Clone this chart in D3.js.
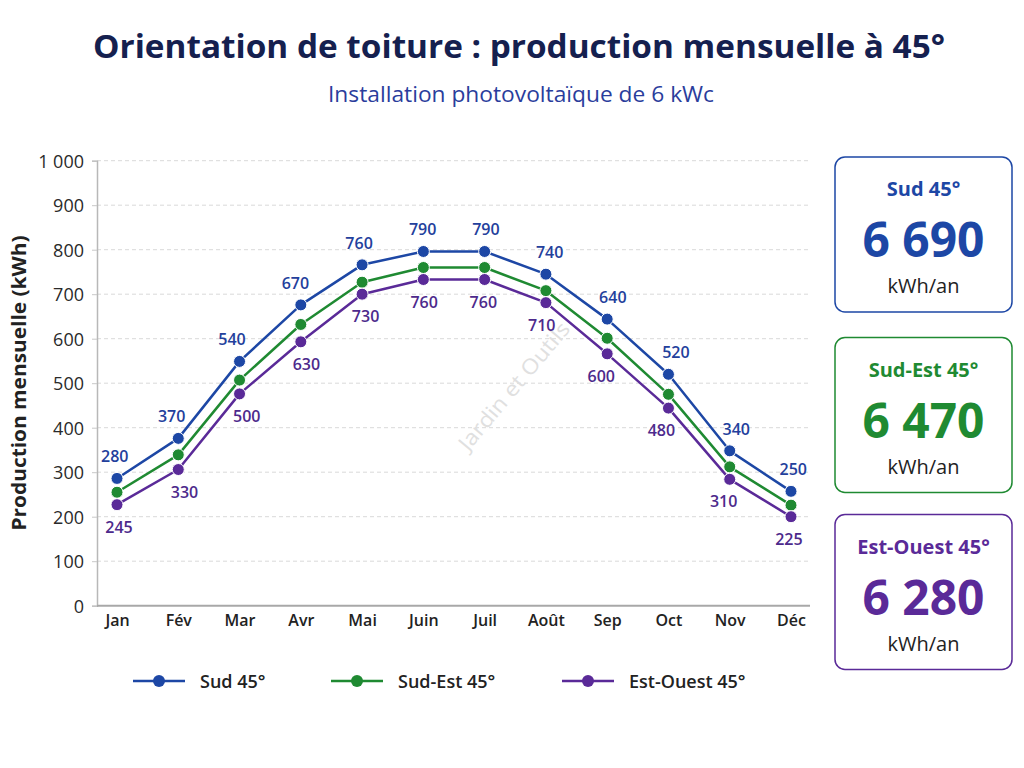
<!DOCTYPE html>
<html>
<head>
<meta charset="utf-8">
<script src="https://cdnjs.cloudflare.com/ajax/libs/d3/7.8.5/d3.min.js"></script>
<style>
  body { margin: 0; background: #ffffff; }
  svg { display: block; font-family: "Open Sans", sans-serif; }
</style>
</head>
<body>
<div id="chart"></div>
<script>
"use strict"

// data
var months = ["Jan", "Fév", "Mar", "Avr", "Mai", "Juin", "Juil", "Août", "Sep", "Oct", "Nov", "Déc"];
var seriesNames = ["Sud 45°", "Sud-Est 45°", "Est-Ouest 45°"];
var sudValues = [286, 376, 549, 676, 766, 796, 796, 745, 644, 520, 348, 257];
var sudEstValues = [255, 339, 507, 632, 727, 760, 760, 708, 601, 475, 312, 226];
var estOuestValues = [227, 306, 476, 593, 700, 733, 733, 681, 566, 444, 284, 200];
var sudLabels = [280, 370, 540, 670, 760, 790, 790, 740, 640, 520, 340, 250];
var estOuestLabels = [245, 330, 500, 630, 730, 760, 760, 710, 600, 480, 310, 225];
var yTicks = [0, 100, 200, 300, 400, 500, 600, 700, 800, 900, 1000];
var annualTotals = [6690, 6470, 6280];

var colors = ["#1d47a5", "#1f8a32", "#5a2a98"],
    labelColors = ["#23409c", null, "#4d2a8c"];

var width = 1024, height = 768;
var fmt = d3.formatLocale({ decimal: ",", thousands: " ", grouping: [3] }).format(",d");

var svg = d3.select("#chart").append("svg")
    .attr("width", width)
    .attr("height", height);

// title
svg.append("text")
  .attr("x", 519).attr("y", 58)
  .attr("text-anchor", "middle")
  .attr("textLength", 852)
  .attr("lengthAdjust", "spacingAndGlyphs")
  .style("font-size", "33px")
  .style("font-weight", "700")
  .style("fill", "#15204f")
  .text("Orientation de toiture : production mensuelle à 45°");

svg.append("text")
  .attr("x", 521).attr("y", 102)
  .attr("text-anchor", "middle")
  .attr("textLength", 386)
  .attr("lengthAdjust", "spacingAndGlyphs")
  .style("font-size", "21px")
  .style("fill", "#2a3d9c")
  .text("Installation photovoltaïque de 6 kWc");

// scales
var x = d3.scalePoint().domain(months).range([117, 791]);
var y = d3.scaleLinear().domain([0, 1000]).range([605.7, 160.7]);
var plotLeft = 97, plotRight = 808;

// grid
svg.append("g")
  .selectAll("line")
  .data(yTicks.filter(function(d){ return d > 0; }))
  .join("line")
  .attr("x1", plotLeft).attr("x2", plotRight)
  .attr("y1", function(d){ return y(d); })
  .attr("y2", function(d){ return y(d); })
  .attr("stroke", "#d9d9d9")
  .attr("stroke-width", 1)
  .attr("stroke-dasharray", "4,3");

// watermark
svg.append("text")
  .attr("transform", "translate(514,386) rotate(-50)")
  .attr("text-anchor", "middle")
  .attr("dy", "0.35em")
  .attr("textLength", 160)
  .attr("lengthAdjust", "spacingAndGlyphs")
  .style("font-size", "21px")
  .style("fill", "#e0e0e0")
  .text("Jardin et Outils");

// y axis
var yAxis = svg.append("g")
  .attr("transform", "translate(" + plotLeft + ",0)")
  .call(d3.axisLeft(y).tickValues(yTicks).tickFormat(fmt).tickSize(5).tickPadding(8));
yAxis.select(".domain").attr("stroke", "#b8b8b8").attr("stroke-width", 1.5);
yAxis.selectAll(".tick line").attr("stroke", "#c8c8c8");
yAxis.selectAll(".tick text")
  .style("font-size", "18px")
  .style("font-family", "'Open Sans', sans-serif")
  .style("fill", "#2a2a2a")
  .attr("dy", "0.35em");

// x axis
var xAxis = svg.append("g")
  .attr("transform", "translate(0," + y(0) + ")")
  .call(d3.axisBottom(x).tickSize(0).tickPadding(9));
xAxis.select(".domain")
  .attr("d", "M" + plotLeft + ",0H" + (plotRight + 2))
  .attr("stroke", "#a8a8a8")
  .attr("stroke-width", 2);
xAxis.selectAll(".tick text")
  .style("font-size", "16px")
  .style("font-weight", "600")
  .style("font-family", "'Open Sans', sans-serif")
  .style("fill", "#222");

// y title
svg.append("text")
  .attr("transform", "translate(26,383) rotate(-90)")
  .attr("text-anchor", "middle")
  .attr("textLength", 295)
  .attr("lengthAdjust", "spacingAndGlyphs")
  .style("font-size", "19px")
  .style("font-weight", "700")
  .style("fill", "#222")
  .text("Production mensuelle (kWh)");

// lines
var allSeries = [sudValues, sudEstValues, estOuestValues];
var line = d3.line()
  .x(function(d, i){ return x(months[i]); })
  .y(function(d){ return y(d); });

allSeries.forEach(function(vals, s){
  var g = svg.append("g");
  g.append("path")
    .attr("d", line(vals))
    .attr("fill", "none")
    .attr("stroke", colors[s])
    .attr("stroke-width", 2.5)
    .attr("stroke-linejoin", "round");
  g.selectAll("circle")
    .data(vals)
    .join("circle")
    .attr("cx", function(d, i){ return x(months[i]); })
    .attr("cy", function(d){ return y(d); })
    .attr("r", 6)
    .attr("fill", colors[s])
    .attr("stroke", "#fff")
    .attr("stroke-width", 1);
});

// point labels: nudge sideways away from the slope
function slopeAt(vals, i){
  var a = vals[Math.max(0, i - 1)], b = vals[Math.min(vals.length - 1, i + 1)];
  return (b - a) / 2;
}

function drawLabels(vals, texts, color, above){
  svg.append("g")
    .selectAll("text")
    .data(texts)
    .join("text")
    .attr("x", function(d, i){
      var dx = Math.max(-9, Math.min(9, slopeAt(vals, i) * 0.05));
      return x(months[i]) + (above ? -dx : dx);
    })
    .attr("y", function(d, i){ return y(vals[i]) + (above ? -16 : 28); })
    .attr("text-anchor", "middle")
    .style("font-size", "16px")
    .style("font-weight", "600")
    .style("fill", color)
    .text(function(d){ return d; });
}
drawLabels(sudValues, sudLabels, labelColors[0], true);
drawLabels(estOuestValues, estOuestLabels, labelColors[2], false);

// legend
var legendX = [133, 331, 562];
var legend = svg.append("g")
  .selectAll("g")
  .data(seriesNames)
  .join("g")
  .attr("transform", function(d, i){ return "translate(" + legendX[i] + ",681)"; });
legend.append("line")
  .attr("x1", 0).attr("x2", 52)
  .attr("stroke", function(d, i){ return colors[i]; })
  .attr("stroke-width", 2.5);
legend.append("circle")
  .attr("cx", 26).attr("r", 6)
  .attr("fill", function(d, i){ return colors[i]; });
legend.append("text")
  .attr("x", 67).attr("y", 6.5)
  .style("font-size", "18px")
  .style("font-weight", "600")
  .style("fill", "#222")
  .text(function(d){ return d; });

// total cards
var cardTops = [157, 337.5, 514.5];
var cards = svg.append("g")
  .selectAll("g")
  .data(seriesNames)
  .join("g")
  .attr("transform", function(d, i){ return "translate(835," + cardTops[i] + ")"; });
cards.append("rect")
  .attr("width", 177).attr("height", 155)
  .attr("rx", 10)
  .attr("fill", "#fff")
  .attr("stroke", function(d, i){ return colors[i]; })
  .attr("stroke-width", 1.5);
cards.append("text")
  .attr("x", 88.5).attr("y", 39)
  .attr("text-anchor", "middle")
  .style("font-size", "20px")
  .style("font-weight", "700")
  .style("fill", function(d, i){ return colors[i]; })
  .text(function(d){ return d; });
cards.append("text")
  .attr("x", 88.5).attr("y", 100)
  .attr("text-anchor", "middle")
  .attr("textLength", 122)
  .attr("lengthAdjust", "spacingAndGlyphs")
  .style("font-size", "48px")
  .style("font-weight", "700")
  .style("fill", function(d, i){ return colors[i]; })
  .text(function(d, i){ return fmt(annualTotals[i]); });
cards.append("text")
  .attr("x", 88.5).attr("y", 136)
  .attr("text-anchor", "middle")
  .style("font-size", "20px")
  .style("fill", "#222")
  .text("kWh/an");
</script>
</body>
</html>
